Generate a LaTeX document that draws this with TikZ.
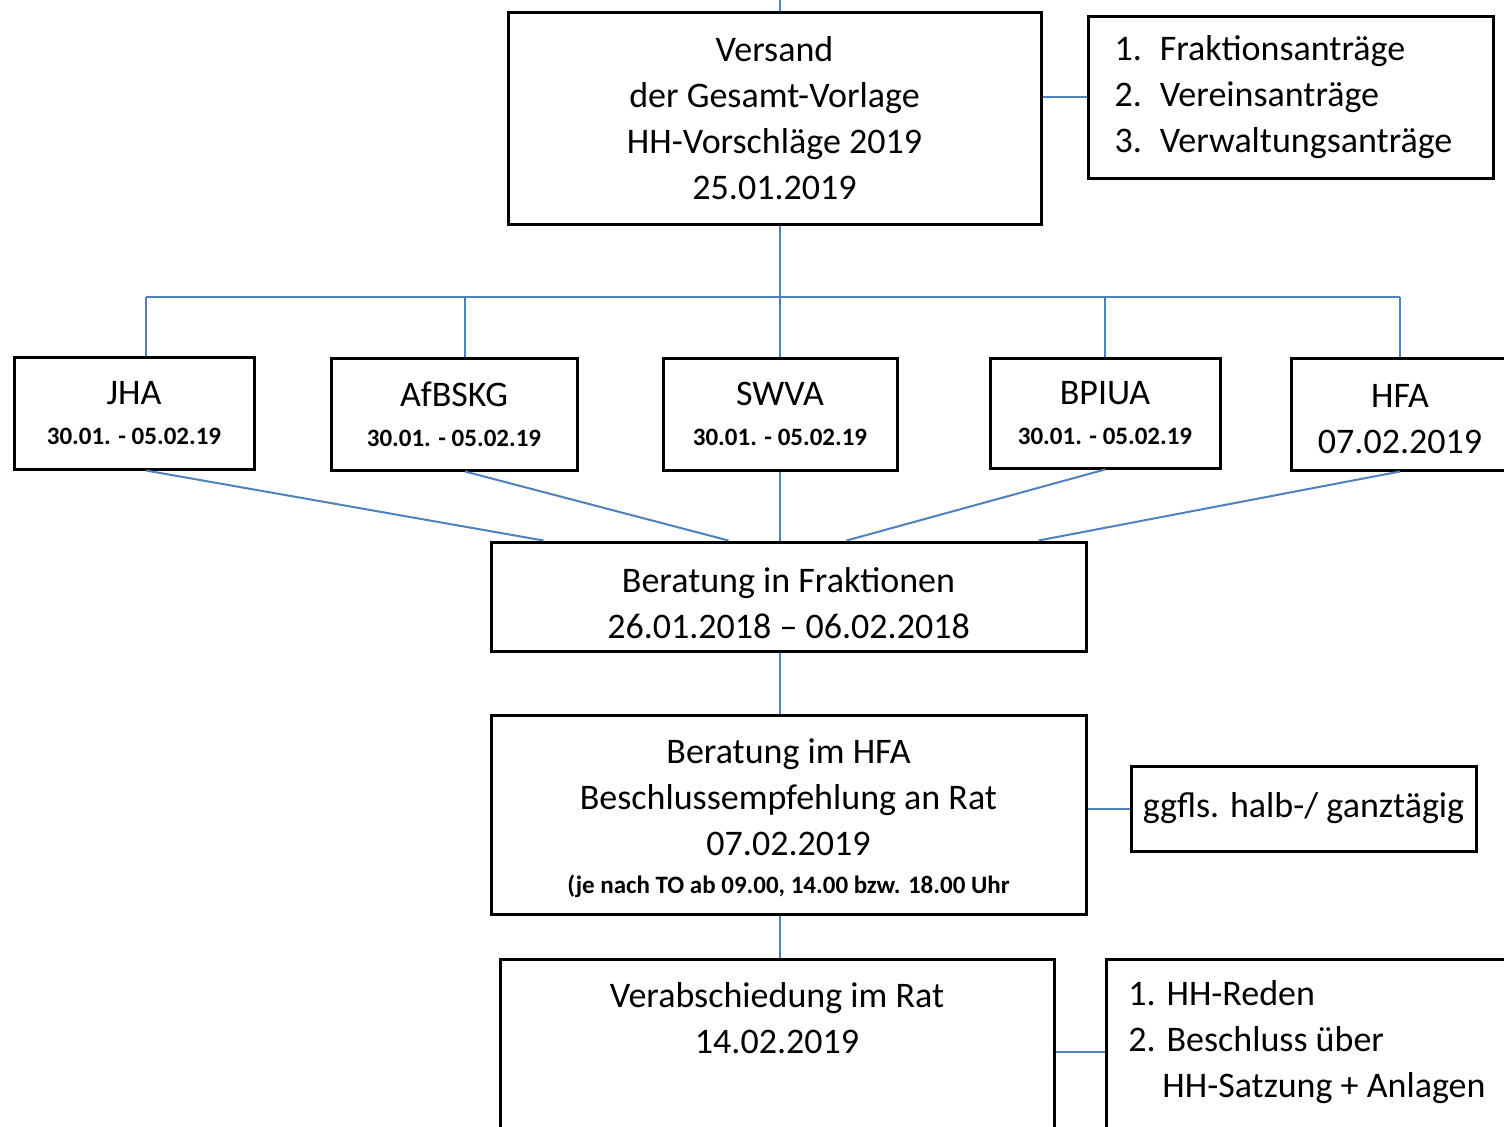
\documentclass[tikz,border=0pt]{standalone}
\usepackage{fontspec}
\setmainfont{Carlito}
\usetikzlibrary{calc}
\definecolor{linkblue}{RGB}{79,129,189}
\newcommand{\datefont}{\bfseries\fontsize{12.5}{15}\selectfont}

\begin{document}
\begin{tikzpicture}[x=0.5pt,y=-0.5pt,
    box/.style={draw,line width=1.5pt,align=center,inner sep=0pt,
      font=\fontsize{18}{23}\selectfont},
    txt/.style={align=center,inner sep=0pt,font=\fontsize{18}{23}\selectfont},
    link/.style={draw=linkblue,line width=1pt}]
   \useasboundingbox (0,0) rectangle (1504,1126);
   % top part
   \coordinate (top) at (780,0);
   \node[box,minimum width=266.5pt,minimum height=106pt] (versand) at (774.5,118)
     {Versand\\der Gesamt-Vorlage\\HH-Vorschläge 2019\\25.01.2019};
   \node[box,anchor=west,align=left,minimum height=81pt,inner xsep=13pt,text width=176.5pt] (antraege) at (1087,97)
     {1. Fraktionsanträge\\2. Vereinsanträge\\3. Verwaltungsanträge};
   \draw[link] (top) -- (top |- versand.north);
   \draw[link] (antraege.west) -- (antraege.west -| versand.east);
   % committees
   \coordinate (bus) at (780,297);
   \node[box,minimum width=120pt,minimum height=56pt] (jha) at (134,413)
     {JHA\\[-3pt]{\datefont 30.01. - 05.02.19}};
   \node[box,minimum width=123pt,minimum height=56pt] (afbskg) at (454,414)
     {AfBSKG\\[-3pt]{\datefont 30.01. - 05.02.19}};
   \node[box,minimum width=117pt,minimum height=56pt] (swva) at (780,414)
     {SWVA\\[-3pt]{\datefont 30.01. - 05.02.19}};
   \node[box,minimum width=115pt,minimum height=55pt] (bpiua) at (1105,413)
     {BPIUA\\[-3pt]{\datefont 30.01. - 05.02.19}};
   \node[box,minimum width=109pt,minimum height=56pt,
     label={[txt,yshift=-2.5pt]center:{HFA\\07.02.2019}}] (hfa) at (1400,414) {};
   \coordinate (jhadrop) at ([xshift=6pt]jha.north);
   \coordinate (afbdrop) at ([xshift=5.5pt]afbskg.north);
   \draw[link] (bus |- versand.south) -- (bus);
   \draw[link,line width=1.3pt] (jhadrop |- bus) -- (hfa.north |- bus);
   \foreach \n in {jhadrop,afbdrop,swva.north,bpiua.north,hfa.north}
     \draw[link] (\n |- bus) -- (\n);
   % Fraktionen
   \node[box,minimum width=297.5pt,minimum height=54.5pt,
     label={[txt,yshift=-3.5pt]center:{Beratung in Fraktionen\\26.01.2018 -- 06.02.2018}}] (fraktionen) at (788.5,596.5) {};
   \draw[link] ([xshift=6pt]jha.south) -- ($(fraktionen.north west)+(54,0)$);
   \draw[link] ([xshift=5.5pt]afbskg.south) -- ($(fraktionen.north west)+(239,0)$);
   \draw[link] (swva.south) -- (swva.south |- fraktionen.north);
   \draw[link] (bpiua.south) -- ($(fraktionen.north west)+(357,0)$);
   \draw[link] (hfa.south) -- ($(fraktionen.north west)+(549,0)$);
   % HFA
   \node[box,minimum width=297.5pt,minimum height=99.5pt,
     label={[txt,yshift=-2pt]center:{Beratung im HFA\\Beschlussempfehlung an Rat\\07.02.2019\\[-4pt]{\datefont (je nach TO ab 09.00, 14.00 bzw. 18.00 Uhr}}}] (hfaber) at (788.5,814.5) {};
   \node[box,minimum width=172.5pt,minimum height=42.5pt] (ggfls) at (1303.5,808.5)
     {ggfls. halb-/ ganztägig};
   \draw[link] (bus |- fraktionen.south) -- (bus |- hfaber.north);
   \draw[link] (ggfls.west) -- (ggfls.west -| hfaber.east);
   % Rat
   \node[box,anchor=north,minimum width=277pt,minimum height=92pt] (rat) at (777,958) {};
   \node[txt] (rattxt) at (777,1018) {Verabschiedung im Rat\\14.02.2019};
   \node[box,anchor=north west,minimum width=205pt,minimum height=92pt] (reden) at (1105,958) {};
   \node[txt,anchor=north west,align=left] (redentxt) at (1128,980)
     {1. HH-Reden\\2. Beschluss über\\\hspace*{17pt}HH-Satzung + Anlagen};
   \draw[link] (bus |- hfaber.south) -- (bus |- rat.north);
   \draw[link] (rat.east) -- (reden.west);
\end{tikzpicture}
\end{document}
